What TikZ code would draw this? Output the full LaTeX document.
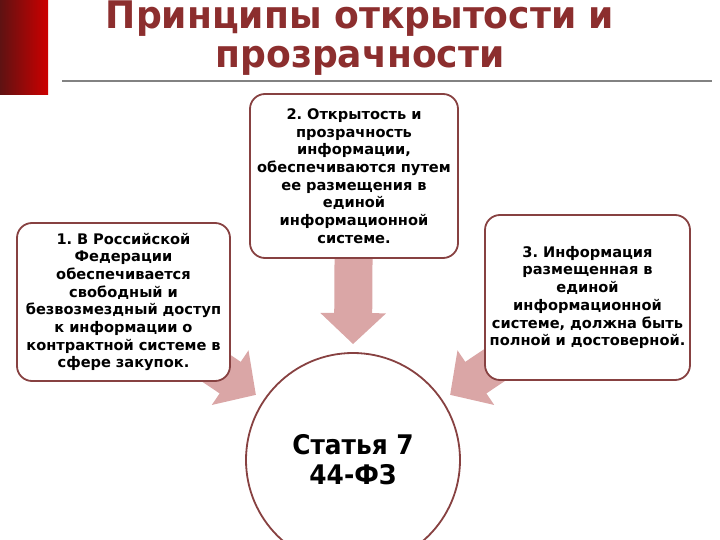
\documentclass[tikz,border=0pt]{standalone}
\usepackage{fontspec}
\usepackage{tikz}
\usetikzlibrary{arrows.meta}
\usetikzlibrary{backgrounds}
\usetikzlibrary{positioning}

\newfontfamily\titlefont[FakeStretch=0.95]{DejaVu Sans Bold}
\newfontfamily\boxfont{DejaVu Sans Bold}
\newfontfamily\corefont[FakeStretch=0.92]{DejaVu Sans Bold}
\frenchspacing

\definecolor{titlered}{RGB}{140,46,46}
\definecolor{rimred}{RGB}{135,65,65}
\definecolor{arrowpink}{RGB}{218,166,166}
\definecolor{bardark}{RGB}{95,18,18}
\definecolor{barred}{RGB}{205,0,0}
\definecolor{rulegrey}{RGB}{130,130,130}

\tikzset{
  infobox/.style={draw=rimred, line width=1.8pt, fill=white, rounded corners=15pt,
    inner sep=0pt, align=center,
    font=\boxfont\fontsize{14.6}{17.7}\selectfont},
  core/.style={circle, draw=rimred, line width=1.8pt, fill=white,
    minimum size=214pt, inner sep=0pt, align=center,
    font=\corefont\fontsize{27}{30}\selectfont},
  blockarrow/.style={line width=38pt, draw=arrowpink,
    -{Triangle[length=31pt, width=64pt]}}
}

\begin{document}
\begin{tikzpicture}[x=1pt, y=-1pt]
        \useasboundingbox (0,0) rectangle (720,540);
        \clip (0,0) rectangle (720,540);

        % header
        \shade[left color=bardark, right color=barred] (0,0) rectangle (48,95);
        \draw[rulegrey, line width=2.5pt] (62,81) -- (712,81);
        \node[titlered, anchor=base, align=center,
              font=\titlefont\fontsize{38}{39}\selectfont] (title) at (360,68)
              {Принципы открытости и\\прозрачности};

        % boxes
        \node[infobox, minimum width=213pt, minimum height=158pt, text width=211pt] (b1) at (123.5,302)
              {1. В Российской\\Федерации\\обеспечивается\\свободный и\\безвозмездный доступ\\к информации о\\контрактной системе в\\сфере закупок.};
        \node[infobox, minimum width=208pt, minimum height=164pt, text width=206pt] (b2) at (354,176)
              {2. Открытость и\\прозрачность\\информации,\\обеспечиваются путем\\ее размещения в\\единой\\информационной\\системе.};
        \node[infobox, minimum width=205pt, minimum height=165pt, text width=203pt] (b3) at (587.5,297.5)
              {3. Информация\\размещенная в\\единой\\информационной\\системе, должна быть\\полной и достоверной.};
        \node[core] (art) at (353,460) {Статья 7\\44-ФЗ};

        \coordinate (s1) at (186,348);
        \coordinate (s3) at (520,348);

        \begin{scope}[on background layer]
        \draw[blockarrow, shorten >=8pt] (b2.center) -- (art.north);
        \draw[blockarrow, shorten >=9pt] (s1) -- (art);
        \draw[blockarrow, shorten >=9pt] (s3) -- (art);
        \end{scope}
    \end{tikzpicture}
\end{document}
